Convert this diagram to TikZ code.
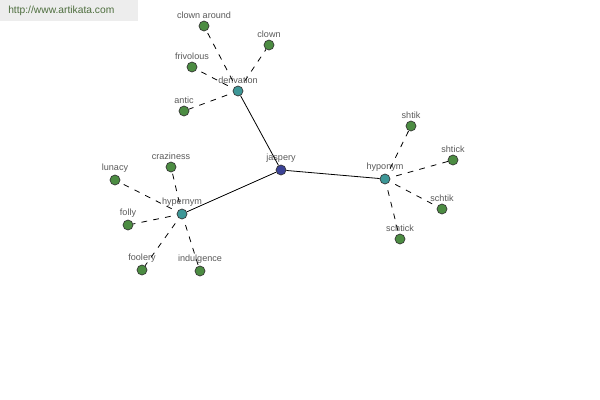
\documentclass[tikz,border=0pt]{standalone}
\usepackage{fontspec}
\setmainfont{Liberation Sans}
\begin{document}
\begin{tikzpicture}[x=0.75pt,y=-0.75pt,
  lbl/.style={font=\fontsize{6.8pt}{7pt}\selectfont, text=black!65, inner sep=0pt},
  vtx/.style={circle, draw=black!80, line width=0.5pt, minimum size=7.5pt, inner sep=0pt},
  leaf/.style={vtx, fill=leafc, label={[lbl, label distance=1.6pt]above:#1}},
  hub/.style={vtx, fill=hubc, label={[lbl, label distance=1.6pt]above:#1}},
  root/.style={vtx, fill=rootc, label={[lbl, label distance=1.6pt]above:#1}},
  solidedge/.style={draw=black, line width=0.6pt},
  dashedge/.style={draw=black, line width=0.6pt, dash pattern=on 4.3pt off 4.7pt, dash phase=4.3pt}
]
\definecolor{leafc}{HTML}{4C8C42}
\definecolor{hubc}{HTML}{3D9797}
\definecolor{rootc}{HTML}{3B4296}
\definecolor{wmc}{HTML}{4E6E3E}
\useasboundingbox (0,0) rectangle (600,400);
\fill[black!7] (0,0) rectangle (138,21);
\node[anchor=west, inner sep=0pt, font=\fontsize{7.7pt}{8pt}\selectfont, text=wmc] (wm) at (8,10.5) {http://www.artikata.com};

\node[root=jaspery] (jaspery) at (281,170) {};
\node[hub=derivation] (derivation) at (238,91) {};
\node[hub=hyponym] (hyponym) at (385,179) {};
\node[hub=hypernym] (hypernym) at (182,214) {};

\node[leaf=clown around] (clownaround) at (204,26) {};
\node[leaf=clown] (clown) at (269,45) {};
\node[leaf=frivolous] (frivolous) at (192,67) {};
\node[leaf=antic] (antic) at (184,111) {};

\node[leaf=craziness] (craziness) at (171,167) {};
\node[leaf=lunacy] (lunacy) at (115,180) {};
\node[leaf=folly] (folly) at (128,225) {};
\node[leaf=foolery] (foolery) at (142,270) {};
\node[leaf=indulgence] (indulgence) at (200,271) {};

\node[leaf=shtik] (shtik) at (411,126) {};
\node[leaf=shtick] (shtick) at (453,160) {};
\node[leaf=schtik] (schtik) at (442,209) {};
\node[leaf=schtick] (schtick) at (400,239) {};

\draw[solidedge] (jaspery) -- (derivation);
\draw[solidedge] (jaspery) -- (hyponym);
\draw[solidedge] (jaspery) -- (hypernym);
\foreach \n in {clownaround,clown,frivolous,antic}
  \draw[dashedge] (derivation) -- (\n);
\foreach \n in {craziness,lunacy,folly,foolery,indulgence}
  \draw[dashedge] (hypernym) -- (\n);
\foreach \n in {shtik,shtick,schtik,schtick}
  \draw[dashedge] (hyponym) -- (\n);
\end{tikzpicture}
\end{document}
